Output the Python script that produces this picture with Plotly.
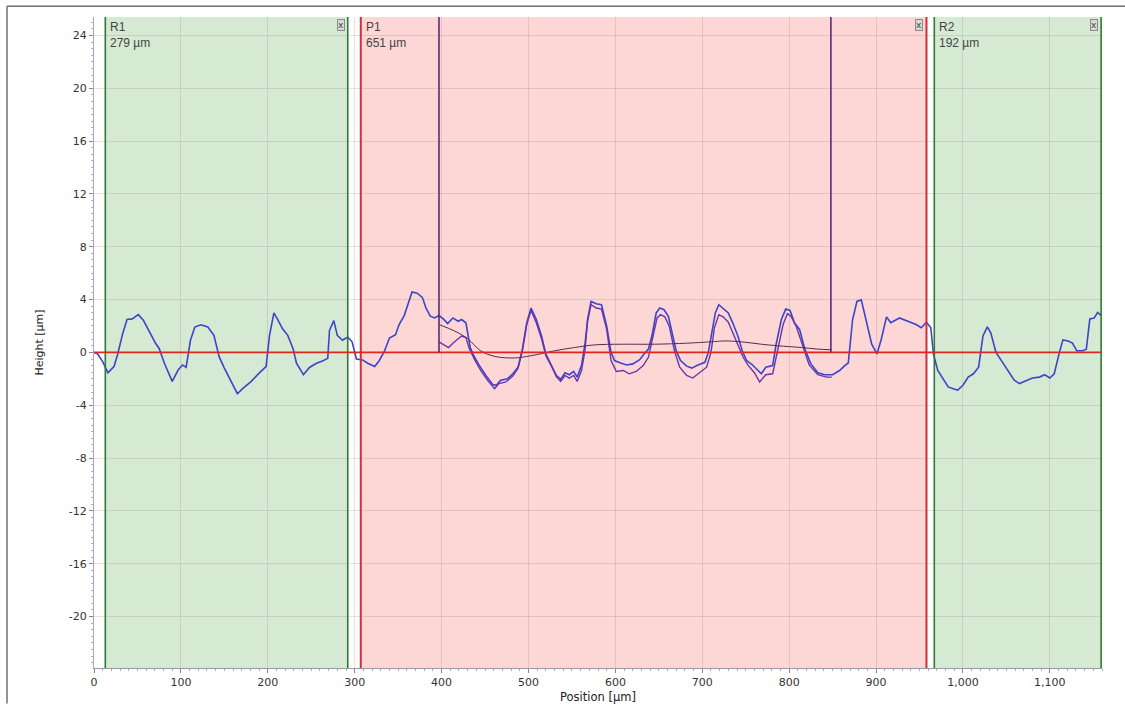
import plotly.graph_objects as go

# Measured surface profile (position in µm, height in µm)
profile_x = [0, 4, 10, 16, 23, 27, 33, 38, 44, 51, 57, 64, 71, 75, 81, 90, 97, 102, 106, 111,
             116, 123, 131, 138, 144, 150, 158, 165, 171, 181, 190, 198, 202, 207, 211, 217, 223, 229, 233, 241,
             248, 256, 263, 269, 271, 276, 280, 286, 292, 297, 302, 309, 315, 323, 328, 334, 340, 347, 351, 357,
             366, 372, 378, 382, 387, 392, 397, 402, 407, 413, 419, 423, 428, 433, 437, 443, 451, 459, 463, 468,
             476, 482, 488, 493, 498, 503, 509, 515, 520, 527, 532, 537, 542, 547, 552, 556, 561, 565, 568, 572,
             578, 584, 590, 595, 599, 606, 613, 620, 628, 633, 638, 642, 647, 651, 656, 661, 665, 670, 675, 682,
             688, 695, 703, 707, 711, 715, 719, 724, 730, 735, 741, 746, 751, 757, 762, 768, 773, 781, 785, 791,
             796, 801, 806, 812, 818, 825, 833, 841, 850, 858, 864, 868, 873, 878, 883, 889, 895, 901, 906, 912,
             917, 927, 937, 946, 952, 958, 963, 966, 971, 977, 983, 988, 994, 1000, 1006, 1012, 1018, 1023, 1028, 1032,
             1038, 1045, 1052, 1059, 1065, 1073, 1080, 1088, 1094, 1100, 1105, 1111, 1115, 1121, 1126, 1131, 1138, 1142, 1146, 1151,
             1155, 1159]
profile_y = [0.0, -0.1, -0.7, -1.55, -1.07, -0.2, 1.42, 2.49, 2.54, 2.86, 2.41, 1.54, 0.67, 0.3, -0.82, -2.19, -1.32, -0.95, -1.14, 0.92,
             1.92, 2.09, 1.92, 1.29, -0.32, -1.19, -2.19, -3.13, -2.74, -2.19, -1.57, -1.07, 1.29, 2.99, 2.54, 1.79, 1.29, 0.3, -0.82, -1.69,
             -1.14, -0.82, -0.65, -0.45, 1.67, 2.41, 1.29, 0.92, 1.17, 0.8, -0.5, -0.57, -0.82, -1.07, -0.65, 0.05, 1.09, 1.34, 2.09, 2.79,
             4.58, 4.48, 4.15, 3.36, 2.74, 2.61, 2.79, 2.54, 2.19, 2.61, 2.36, 2.49, 2.24, 0.37, -0.25, -0.95, -1.74, -2.44, -2.49, -2.11,
             -1.99, -1.62, -1.12, 0.25, 2.24, 3.36, 2.49, 1.24, -0.12, -1.12, -1.74, -2.04, -1.54, -1.69, -1.44, -1.87, -1.0, 0.62, 2.49, 3.86,
             3.68, 3.61, 1.99, 0.0, -0.62, -0.8, -0.95, -0.87, -0.55, -0.12, 0.25, 1.24, 2.99, 3.36, 3.23, 2.74, 1.49, 0.12, -0.62, -1.04,
             -1.19, -0.95, -0.75, 0.0, 1.49, 2.99, 3.61, 3.36, 2.99, 2.24, 1.24, 0.12, -0.62, -0.9, -1.24, -1.62, -1.12, -1.0, 0.62, 2.49,
             3.28, 3.18, 2.24, 1.74, 0.25, -0.87, -1.54, -1.69, -1.69, -1.37, -1.0, -0.8, 2.49, 3.86, 3.98, 2.24, 0.62, -0.12, 1.0, 2.69,
             2.24, 2.61, 2.36, 2.11, 1.87, 2.29, 1.87, -0.12, -1.37, -1.99, -2.61, -2.74, -2.86, -2.49, -1.87, -1.62, -1.12, 1.24, 1.94, 1.49,
             0.0, -0.7, -1.37, -2.11, -2.36, -2.11, -1.94, -1.87, -1.69, -1.94, -1.62, 0.0, 0.95, 0.87, 0.7, 0.12, 0.12, 0.25, 2.54, 2.61,
             3.03, 2.79]

# Form-removed profile inside the evaluation window
levelled_x = [397, 403, 408, 413, 418, 423, 428, 432, 438, 445, 453, 461, 466, 474, 482, 488, 493, 498, 503, 509,
              515, 520, 527, 532, 537, 542, 547, 552, 556, 561, 565, 568, 572, 578, 584, 590, 595, 601, 609, 616,
              624, 632, 638, 643, 648, 652, 657, 662, 668, 674, 682, 689, 697, 705, 710, 714, 719, 724, 730, 735,
              741, 747, 753, 760, 766, 773, 781, 787, 793, 798, 802, 808, 816, 823, 833, 843, 849]
levelled_y = [0.8, 0.55, 0.37, 0.7, 1.0, 1.24, 1.12, 0.25, -0.55, -1.37, -2.11, -2.74, -2.36, -2.24, -1.79, -1.19, 0.12, 2.11, 3.18, 2.24,
              1.04, -0.25, -1.12, -1.84, -2.2, -1.75, -1.95, -1.75, -2.2, -1.4, 0.15, 2.36, 3.61, 3.36, 3.28, 1.74, -0.62, -1.44, -1.37, -1.62,
              -1.44, -1.0, -0.37, 1.0, 2.61, 2.86, 2.69, 1.99, 0.12, -1.12, -1.74, -1.94, -1.54, -1.12, 0.0, 1.87, 2.86, 2.69, 2.29, 1.49,
              0.5, -0.37, -1.0, -1.54, -2.24, -1.69, -1.62, 0.12, 2.11, 2.94, 2.74, 1.99, 0.5, -0.95, -1.69, -1.87, -1.87]

# Fitted form curve inside the evaluation window
form_x = [397, 415, 430, 445, 461, 484, 503, 530, 553, 576, 607, 645, 683, 714, 726, 745, 768, 787, 814, 833, 849]
form_y = [2.11, 1.62, 1.04, 0.12, -0.3, -0.42, -0.25, 0.12, 0.37, 0.57, 0.62, 0.62, 0.7, 0.82, 0.87, 0.8, 0.62, 0.5, 0.37, 0.25, 0.2]

# Reference / evaluation regions: name, start, end, kind, label
region_names = ["R1", "P1", "R2"]
region_start = [13, 307, 967]
region_end = [292, 958, 1159]
region_kind = ["ref", "eval", "ref"]
region_width_labels = ["279 µm", "651 µm", "192 µm"]

# Evaluation window cursors
cursor_x = [397, 848]

x_ticks = [0, 100, 200, 300, 400, 500, 600, 700, 800, 900, 1000, 1100]
x_tick_text = ["0", "100", "200", "300", "400", "500", "600", "700", "800", "900", "1,000", "1,100"]
y_ticks = [-20, -16, -12, -8, -4, 0, 4, 8, 12, 16, 20, 24]
y_tick_text = ["-20", "-16", "-12", "-8", "-4", "0", "4", "8", "12", "16", "20", "24"]

X_RANGE = [0, 1160]
Y_RANGE = [-23.9, 25.4]
W, H = 1125, 713
ML, MR, MT, MB = 94, 23, 17, 36

fill = {"ref": "#d6e9d3", "eval": "#fdd6d6"}
edge = {"ref": "#2f7a34", "eval": "#d0303a"}

fig = go.Figure()

shapes = []
annotations = []
for name, x0, x1, kind, lab in zip(region_names, region_start, region_end, region_kind, region_width_labels):
    shapes.append(dict(type="rect", xref="x", yref="paper", x0=x0, x1=x1, y0=0, y1=1,
                       fillcolor=fill[kind], line=dict(width=0), layer="below"))
    for xe in (x0, x1):
        shapes.append(dict(type="line", xref="x", yref="paper", x0=xe, x1=xe, y0=0, y1=1,
                           line=dict(color=edge[kind], width=2 if kind == "eval" else 1.6), layer="above"))
    annotations.append(dict(xref="x", yref="paper", x=x0, y=1, xanchor="left", yanchor="top",
                            xshift=3, yshift=-1, align="left", showarrow=False,
                            text=f"{name}<br>{lab}",
                            font=dict(family="Liberation Sans, Arial", size=12, color="#444444")))
    annotations.append(dict(xref="x", yref="paper", x=x1, y=1, xanchor="right", yanchor="top",
                            xshift=-3, yshift=-2, showarrow=False, text="x",
                            font=dict(family="DejaVu Sans", size=9, color="#444444"),
                            bgcolor="#d8d8d8", bordercolor="#8a8a8a", borderwidth=1, borderpad=0))

# zero reference line
shapes.append(dict(type="line", xref="x", yref="y", x0=0, x1=region_end[-1], y0=0, y1=0,
                   line=dict(color="#e0261f", width=1.6), layer="above"))

# evaluation cursors
for cx in cursor_x:
    shapes.append(dict(type="line", xref="x", yref="y", x0=cx, x1=cx, y0=0, y1=Y_RANGE[1],
                       line=dict(color="#5a2a78", width=1.6), layer="above"))

# window frame (left and top edges)
px_w = W - ML - MR
px_h = H - MT - MB
fx0 = (7 - ML) / px_w
fy1 = 1 + (MT - 6) / px_h
shapes.append(dict(type="line", xref="paper", yref="paper", x0=fx0, x1=fx0, y0=-(H - MT) / px_h + 1, y1=fy1,
                   line=dict(color="#707070", width=1.5)))
shapes.append(dict(type="line", xref="paper", yref="paper", x0=fx0, x1=(W - ML) / px_w, y0=fy1, y1=fy1,
                   line=dict(color="#707070", width=1.5)))

fig.add_trace(go.Scatter(x=profile_x, y=profile_y, mode="lines",
                         line=dict(color="#3b45c8", width=1.6), hoverinfo="skip"))
fig.add_trace(go.Scatter(x=levelled_x, y=levelled_y, mode="lines",
                         line=dict(color="#6a35a8", width=1.4), hoverinfo="skip"))
fig.add_trace(go.Scatter(x=form_x, y=form_y, mode="lines", line_shape="spline",
                         line=dict(color="#5a2a48", width=1), hoverinfo="skip"))

axis_font = dict(family="DejaVu Sans", size=11, color="#333333")
fig.update_layout(
    width=W, height=H,
    margin=dict(l=ML, r=MR, t=MT, b=MB),
    paper_bgcolor="white", plot_bgcolor="white",
    showlegend=False,
    shapes=shapes, annotations=annotations,
    xaxis=dict(range=X_RANGE, tickmode="array", tickvals=x_ticks, ticktext=x_tick_text,
               showgrid=True, gridcolor="rgba(140,120,120,0.22)", gridwidth=1,
               zeroline=False, showline=True, linecolor="#9a9aa6", linewidth=1,
               ticks="outside", ticklen=4, tickcolor="#888888",
               minor=dict(dtick=10, ticks="outside", ticklen=2, tickcolor="#aaaaaa", showgrid=False),
               tickfont=axis_font,
               title=dict(text="Position [µm]", font=dict(family="DejaVu Sans", size=11.5, color="#222222"),
                          standoff=4)),
    yaxis=dict(range=Y_RANGE, tickmode="array", tickvals=y_ticks, ticktext=y_tick_text,
               showgrid=True, gridcolor="rgba(140,120,120,0.22)", gridwidth=1,
               zeroline=False, showline=True, linecolor="#b0a2c4", linewidth=1,
               ticks="outside", ticklen=4, tickcolor="#888888",
               minor=dict(dtick=0.5, ticks="outside", ticklen=2, tickcolor="#b9aec8", showgrid=False),
               tickfont=axis_font,
               title=dict(text="Height [µm]", font=dict(family="DejaVu Sans", size=11, color="#222222"),
                          standoff=22)),
)

fig.write_html("out.html")
